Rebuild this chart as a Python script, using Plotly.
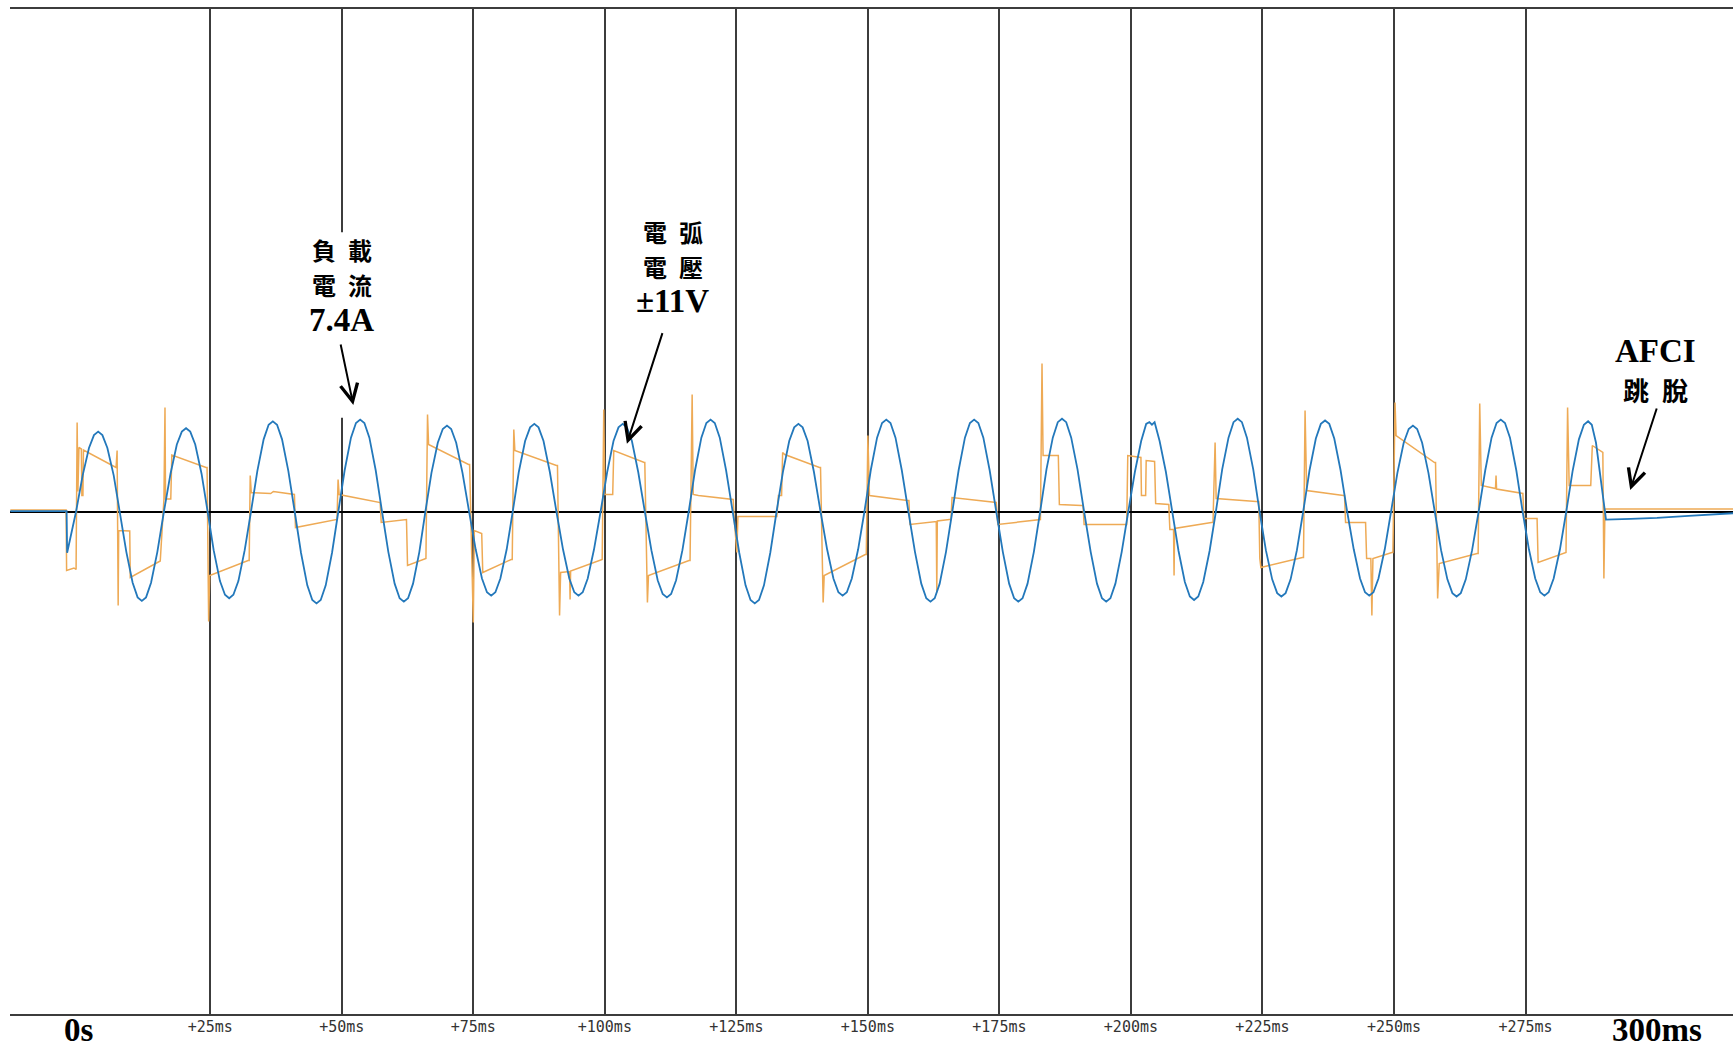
import plotly.graph_objects as go

# ---------------- data ----------------
# load current (blue), time in ms, current in A
cur_t = [
    -13.0, -2.3, -2.2, -0.5,
    0.75, 1.95, 2.9, 3.7, 4.5, 5.45, 6.65, 7.85,
    9.05, 10.25, 11.2, 12.0, 12.8, 13.75, 14.95, 16.2,
    17.45, 18.65, 19.6, 20.4, 21.2, 22.15, 23.35, 24.5,
    25.65, 26.85, 27.8, 28.6, 29.4, 30.35, 31.55, 32.75,
    33.95, 35.15, 36.1, 36.9, 37.7, 38.65, 39.85, 41.05,
    42.25, 43.45, 44.4, 45.2, 46.0, 46.95, 48.15, 49.35,
    50.55, 51.75, 52.7, 53.5, 54.3, 55.25, 56.45, 57.65,
    58.85, 60.05, 61.0, 61.8, 62.6, 63.55, 64.75, 65.9,
    67.05, 68.25, 69.2, 70.0, 70.8, 71.75, 72.95, 74.2,
    75.45, 76.65, 77.6, 78.4, 79.2, 80.15, 81.35, 82.5,
    83.65, 84.85, 85.8, 86.6, 87.4, 88.35, 89.55, 90.8,
    92.05, 93.25, 94.2, 95.0, 95.8, 96.75, 97.95, 99.2,
    100.45, 101.65, 102.6, 103.4, 104.2, 105.15, 106.35, 107.6,
    108.85, 110.05, 111.0, 111.8, 112.6, 113.55, 114.75, 115.95,
    117.15, 118.35, 119.3, 120.1, 120.9, 121.85, 123.05, 124.3,
    125.55, 126.75, 127.7, 128.5, 129.3, 130.25, 131.45, 132.65,
    133.85, 135.05, 136.0, 136.8, 137.6, 138.55, 139.75, 141.0,
    142.25, 143.45, 144.4, 145.2, 146.0, 146.95, 148.15, 149.35,
    150.55, 151.75, 152.7, 153.5, 154.3, 155.25, 156.45, 157.7,
    158.95, 160.15, 161.1, 161.9, 162.7, 163.65, 164.85, 166.05,
    167.25, 168.45, 169.4, 170.2, 171.0, 171.95, 173.15, 174.4,
    175.65, 176.85, 177.8, 178.6, 179.4, 180.35, 181.55, 182.75,
    183.95, 185.15, 186.1, 186.9, 187.7, 188.65, 189.85, 191.1,
    192.35, 193.55, 194.5, 195.3, 196.1, 197.05, 198.25, 199.5,
    200.75, 201.95, 202.9, 203.5, 204.0, 204.5, 205.45, 206.65, 207.85,
    209.05, 210.25, 211.2, 212.0, 212.8, 213.75, 214.95, 216.15,
    217.35, 218.55, 219.5, 220.3, 221.1, 222.05, 223.25, 224.45,
    225.65, 226.85, 227.8, 228.6, 229.4, 230.35, 231.55, 232.75,
    233.95, 235.15, 236.1, 236.9, 237.7, 238.65, 239.85, 241.1,
    242.35, 243.55, 244.5, 245.3, 246.1, 247.05, 248.25, 249.45,
    250.65, 251.85, 252.8, 253.6, 254.4, 255.35, 256.55, 257.75,
    258.95, 260.15, 261.1, 261.9, 262.7, 263.65, 264.85, 266.1,
    267.35, 268.55, 269.5, 270.3, 271.1, 272.05, 273.25, 274.45,
    275.65, 276.85, 277.8, 278.6, 279.4, 280.35, 281.55, 282.75,
    283.95, 285.15, 286.1, 286.9, 287.6, 288.4, 289.3, 290.2,
    290.3, 295.0, 300.0, 306.0, 314.5,
]
cur_a = [
    0.05, 0.05, -4.8, 0.0,
    4.2, 7.4, 8.9, 9.3, 8.9, 7.4, 4.2, 0.0,
    -4.7, -8.3, -10.0, -10.4, -10.0, -8.3, -4.7, 0.0,
    4.4, 7.8, 9.3, 9.7, 9.3, 7.8, 4.4, 0.0,
    -4.5, -8.1, -9.7, -10.1, -9.7, -8.1, -4.5, 0.0,
    4.7, 8.4, 10.1, 10.5, 10.1, 8.4, 4.7, 0.0,
    -4.8, -8.6, -10.3, -10.7, -10.3, -8.6, -4.8, 0.0,
    4.8, 8.6, 10.3, 10.7, 10.3, 8.6, 4.8, 0.0,
    -4.7, -8.4, -10.1, -10.5, -10.1, -8.4, -4.7, 0.0,
    4.5, 8.0, 9.6, 10.0, 9.6, 8.0, 4.5, 0.0,
    -4.4, -7.8, -9.4, -9.8, -9.4, -7.8, -4.4, 0.0,
    4.6, 8.2, 9.8, 10.2, 9.8, 8.2, 4.6, 0.0,
    -4.4, -7.8, -9.4, -9.8, -9.4, -7.8, -4.4, 0.0,
    4.6, 8.2, 9.8, 10.2, 9.8, 8.2, 4.6, 0.0,
    -4.5, -8.0, -9.6, -10.0, -9.6, -8.0, -4.5, 0.0,
    4.8, 8.6, 10.3, 10.7, 10.3, 8.6, 4.8, 0.0,
    -4.8, -8.6, -10.3, -10.7, -10.3, -8.6, -4.8, 0.0,
    4.6, 8.2, 9.8, 10.2, 9.8, 8.2, 4.6, 0.0,
    -4.4, -7.8, -9.4, -9.8, -9.4, -7.8, -4.4, 0.0,
    4.8, 8.6, 10.3, 10.7, 10.3, 8.6, 4.8, 0.0,
    -4.7, -8.4, -10.1, -10.5, -10.1, -8.4, -4.7, 0.0,
    4.8, 8.6, 10.3, 10.7, 10.3, 8.6, 4.8, 0.0,
    -4.7, -8.4, -10.1, -10.5, -10.1, -8.4, -4.7, 0.0,
    4.9, 8.6, 10.4, 10.8, 10.4, 8.6, 4.9, 0.0,
    -4.7, -8.4, -10.1, -10.5, -10.1, -8.4, -4.7, 0.0,
    4.6, 8.2, 10.2, 10.4, 10.1, 10.4, 8.2, 4.6, 0.0,
    -4.6, -8.2, -9.9, -10.3, -9.9, -8.2, -4.6, 0.0,
    4.9, 8.6, 10.4, 10.8, 10.4, 8.6, 4.9, 0.0,
    -4.5, -7.9, -9.5, -9.9, -9.5, -7.9, -4.5, 0.0,
    4.8, 8.5, 10.2, 10.6, 10.2, 8.5, 4.8, 0.0,
    -4.4, -7.8, -9.4, -9.8, -9.4, -7.8, -4.4, 0.0,
    4.5, 8.0, 9.6, 10.0, 9.6, 8.0, 4.5, 0.0,
    -4.5, -7.9, -9.5, -9.9, -9.5, -7.9, -4.5, 0.0,
    4.8, 8.6, 10.3, 10.7, 10.3, 8.6, 4.8, 0.0,
    -4.4, -7.8, -9.4, -9.8, -9.4, -7.8, -4.4, 0.0,
    4.7, 8.4, 10.1, 10.5, 10.1, 8.0, 4.0, 0.0,
    -0.95, -0.85, -0.75, -0.5, -0.2,
]

# arc voltage (orange), time in ms, voltage in V
vol_t = [
    -13.0, -2.4, -2.3, -0.9, -0.5, -0.3, -0.15, 0.05, 0.5, 0.6, 0.8, 0.9, 7.1,
    7.3, 7.5, 7.6, 9.7, 9.8, 15.5,
    16.2, 16.4, 16.5, 17.5, 17.7, 24.2,
    24.4, 24.7, 24.9, 32.2,
    32.4, 32.6, 32.8, 36.5, 37.0, 41.0,
    41.2, 49.1,
    49.3, 49.5, 57.0,
    57.3, 57.5, 62.1,
    62.3, 62.5, 65.7,
    66.0, 66.3, 66.5, 74.1,
    74.3, 75.0, 75.2, 76.6, 76.8, 82.2,
    82.4, 82.7, 82.9, 90.8,
    91.0, 91.4, 91.6, 93.3, 93.4, 93.5, 99.3,
    99.5, 99.8, 100.0, 101.5, 101.7, 107.5,
    107.6, 108.1, 108.3, 116.0,
    116.2, 116.6, 116.8, 117.8, 124.0,
    124.4, 124.6, 125.1, 125.3, 132.7,
    133.0, 133.6, 133.8, 134.2, 140.8,
    141.0, 141.5, 141.7, 149.5,
    149.7, 150.0, 150.3, 157.5,
    157.8, 158.0, 163.0, 163.1, 163.2, 165.5,
    165.8, 166.0, 173.9,
    174.4, 174.7, 182.6,
    182.8, 183.1, 183.3, 186.2, 186.4, 190.6,
    190.9, 191.1, 199.0,
    199.2, 199.4, 201.9, 202.0, 202.8, 202.9, 204.5, 204.7, 207.0,
    207.2, 207.4, 208.1, 208.2, 208.3, 215.3,
    215.6, 216.0, 216.2, 223.8,
    224.3, 224.5, 224.7, 232.6,
    232.8, 233.1, 233.4, 240.4,
    240.6, 240.8, 244.6, 244.8, 245.6, 245.8, 246.0, 249.6,
    249.8, 250.2, 250.4, 257.7,
    257.9, 258.3, 258.6, 265.8,
    266.0, 266.3, 266.6, 269.3, 269.4, 269.5, 274.3,
    274.5, 274.7, 277.2, 277.4, 282.5,
    282.7, 283.0, 283.3, 287.4, 287.7, 289.7,
    289.9, 290.1, 314.5,
]
vol_v = [
    0.3, 0.3, -11.8, -11.3, -11.6, 17.8, 4.0, 12.8, 12.5, 3.2, 3.2, 12.3, 8.8,
    12.2, -18.8, -3.8, -3.9, -13.2, -9.9,
    2.5, 20.8, 2.5, 2.5, 11.3, 8.8,
    8.8, -22.0, -12.8, -9.8,
    -9.8, 7.2, 3.8, 3.6, 4.0, 3.4,
    -3.2, -1.6,
    6.4, 3.4, 1.8,
    1.8, -2.2, -1.6,
    -1.6, -10.8, -9.4,
    -9.4, 19.4, 13.4, 9.4,
    9.4, -22.2, -3.8, -4.4, -12.2, -9.6,
    -9.6, 16.4, 12.2, 9.2,
    9.2, -20.8, -12.2, -12.0, -17.6, -11.9, -9.6,
    -9.6, 20.4, 3.4, 3.4, 12.2, 9.8,
    9.8, -18.2, -12.8, -9.8,
    -9.8, 23.4, 3.4, 3.2, 2.4,
    2.4, -1.6, -8.2, -1.0, -1.0,
    3.2, 3.2, 11.8, 11.4, 8.8,
    8.8, -18.2, -12.8, -8.6,
    -8.6, 15.2, 3.2, 2.2,
    2.2, -2.6, -2.0, -16.2, -1.9, -1.6,
    -1.6, 2.8, 1.8,
    1.8, -2.6, -1.6,
    -1.6, 29.6, 11.2, 11.2, 1.4, 1.2,
    1.2, -2.6, -2.6,
    -2.6, 11.2, 10.8, 3.2, 3.2, 10.2, 10.0, 1.6, 1.4,
    1.4, -3.6, -3.6, -12.8, -3.4, -2.2,
    -2.2, 13.8, 2.6, 2.0,
    2.0, -9.4, -11.2, -9.2,
    -9.2, 20.2, 4.2, 3.2,
    3.2, -2.2, -2.2, -9.4, -9.4, -20.8, -9.4, -8.2,
    -8.2, 21.8, 15.2, 9.8,
    9.8, -17.4, -10.4, -8.4,
    -8.4, 21.6, 5.2, 4.6, 7.2, 4.5, 3.6,
    3.6, -1.4, -1.4, -10.2, -8.2,
    -8.2, 20.8, 5.2, 5.2, 13.2, 11.8,
    -13.4, 0.5, 0.5,
]
assert len(cur_t) == len(cur_a)
assert len(vol_t) == len(vol_v)

tick_small_vals = [25, 50, 75, 100, 125, 150, 175, 200, 225, 250, 275]
tick_small_text = ["+25ms", "+50ms", "+75ms", "+100ms", "+125ms", "+150ms",
                   "+175ms", "+200ms", "+225ms", "+250ms", "+275ms"]
tick_big_vals = [0, 300]
tick_big_text = ["0s", "300ms"]

# ---------------- figure ----------------
fig = go.Figure()
fig.add_trace(go.Scatter(
    x=vol_t, y=vol_v, xaxis="x", yaxis="y", mode="lines",
    line=dict(color="#eeaa55", width=1.5), hoverinfo="skip", showlegend=False))
fig.add_trace(go.Scatter(
    x=cur_t, y=cur_a, xaxis="x2", yaxis="y2", mode="lines",
    line=dict(color="#2378bb", width=1.8), hoverinfo="skip", showlegend=False))

XR = [-13.06, 314.44]

cjk24 = dict(family="Noto Sans CJK TC", size=24, color="black", weight="bold")
cjk26 = dict(family="Noto Sans CJK TC", size=26, color="black", weight="bold")
ser = dict(family="Liberation Serif", size=33, color="black", weight="bold")

label_texts = [
    ("負\u2002載", 50.0, 30.54, cjk24),
    ("電\u2002流", 50.0, 26.47, cjk24),
    ("7.4A", 50.0, 22.28, ser),
    ("電\u2002弧", 112.9, 32.64, cjk24),
    ("電\u2002壓", 112.9, 28.57, cjk24),
    ("±11V", 112.9, 24.49, ser),
    ("AFCI", 299.7, 18.68, ser),
    ("跳\u2002脫", 299.7, 14.25, cjk26),
]
annotations = []
for txt, xx, yy, f in label_texts:
    annotations.append(dict(text=txt, x=xx, y=yy, xref="x", yref="y2",
                            showarrow=False, xanchor="center", yanchor="middle",
                            font=f, borderpad=0))

arrows = [
    (52.2, 12.4, -13, -62),
    (104.2, 7.9, 36, -112),
    (294.9, 2.5, 27, -83),
]
for xx, yy, axp, ayp in arrows:
    annotations.append(dict(text="", x=xx, y=yy, xref="x", yref="y2", ax=axp, ay=ayp,
                            showarrow=True, arrowhead=5, arrowsize=1.7, arrowwidth=2,
                            arrowcolor="black", standoff=0))

shapes = [
    dict(type="rect", xref="x", yref="y2", x0=42.0, x1=57.7, y0=10.9, y1=32.5,
         fillcolor="white", line=dict(width=0), layer="above"),
    dict(type="rect", xref="x", yref="y2", x0=290.6, x1=309.5, y0=1.7, y1=20.8,
         fillcolor="white", line=dict(width=0), layer="above"),
]

fig.update_layout(
    width=1733, height=1047,
    margin=dict(l=10, r=0, t=9, b=33),
    paper_bgcolor="white", plot_bgcolor="white",
    showlegend=False,
    xaxis=dict(range=XR, tickmode="array", tickvals=tick_small_vals, ticktext=tick_small_text,
               showgrid=True, gridcolor="#3c3c3c", gridwidth=1.6,
               showline=True, mirror=True, linecolor="#3c3c3c", linewidth=2,
               zeroline=False, ticks="", ticklabelstandoff=-2,
               tickfont=dict(family="DejaVu Sans Mono", size=15, color="#333333")),
    xaxis2=dict(range=XR, overlaying="x", matches="x", anchor="free", position=0.007,
                side="bottom",
                tickmode="array", tickvals=tick_big_vals, ticktext=tick_big_text,
                showgrid=False, showline=False, zeroline=False, ticks="",
                tickfont=dict(family="Liberation Serif", size=33, color="black", weight="bold")),
    yaxis=dict(range=[-100.5, 100.5], showgrid=False, showticklabels=False, ticks="",
               zeroline=True, zerolinecolor="black", zerolinewidth=1.6, showline=False),
    yaxis2=dict(range=[-58.5, 58.5], overlaying="y", anchor="x", showgrid=False,
                showticklabels=False, ticks="", zeroline=False, showline=False),
    annotations=annotations,
    shapes=shapes,
)

fig.write_html("out.html")
